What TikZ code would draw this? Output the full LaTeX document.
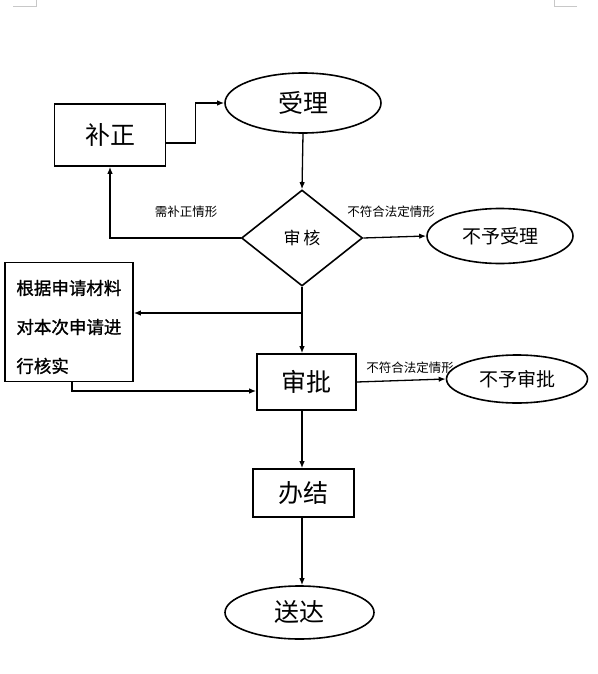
\documentclass[tikz,border=0pt]{standalone}
\usepackage{fontspec}
\setmainfont{Noto Sans CJK SC}
\newfontfamily\heshifont[FakeBold=1.2]{Noto Sans CJK SC}
\usepackage{xcolor}
\usetikzlibrary{shapes.geometric, arrows.meta, positioning, calc}
\definecolor{FL_LINE}{HTML}{000000}
\definecolor{FL_MARK}{HTML}{C8C8C8}
\tikzset{
  boxnode/.style={
    rectangle, draw=FL_LINE, line width=1.6pt,
    text centered, align=center, inner sep=0pt},
  ovalnode/.style={
    ellipse, draw=FL_LINE, line width=1.6pt,
    text centered, align=center, inner sep=0pt},
  checknode/.style={
    diamond, draw=FL_LINE, line width=1.6pt,
    text centered, align=center, inner sep=0pt,
    minimum width=121pt, minimum height=96pt},
  arr/.style={-{Latex[length=7pt,width=5.5pt]}, line width=1.3pt, color=FL_LINE},
  cond/.style={font=\fontsize{12.5}{14}\selectfont, inner sep=0pt},
}

\begin{document}
\begin{tikzpicture}[x=1pt, y=-1pt]
  \useasboundingbox (0,0) rectangle (597,674);

  % page corner marks
  \draw[FL_MARK, line width=1pt] (13,7) -- (36,7) -- (36,0);
  \draw[FL_MARK, line width=1pt] (577,7) -- (554,7) -- (554,0);

  \coordinate (spine) at (302,0);

  \node[ovalnode, minimum width=156pt, minimum height=60pt,
    font=\fontsize{25}{28}\selectfont] (shouli) at (303,103) {受理};
  \node[boxnode, minimum width=111pt, minimum height=62pt,
    font=\fontsize{25}{28}\selectfont] (buzheng) at (110,135) {补正};
  \node[checknode, font=\fontsize{17}{20}\selectfont] (shenhe) at (302,238)
    {审\hspace{3pt}核};
  \node[ovalnode, minimum width=146pt, minimum height=55pt,
    font=\fontsize{19}{22}\selectfont] (buyushouli) at (500,236) {不予受理};

  \node[boxnode, minimum width=128pt, minimum height=119pt] (heshi) at (69,322) {};
  \node[align=left, anchor=west, inner sep=0pt,
    font=\heshifont\fontsize{17.5}{39}\selectfont] (heshitext)
    at ([xshift=12pt, yshift=-5pt]heshi.west)
    {根据申请材料\\对本次申请进\\行核实};

  \node[boxnode, minimum width=99pt, minimum height=56pt,
    font=\fontsize{25}{28}\selectfont] (shenpi) at (306.5,382) {审批};
  \node[ovalnode, minimum width=141pt, minimum height=48pt,
    font=\fontsize{19}{22}\selectfont] (buyushenpi) at (517,379) {不予审批};

  \node[boxnode, minimum width=101pt, minimum height=48pt,
    font=\fontsize{25}{28}\selectfont] (banjie) at (303.5,493) {办结};
  \node[ovalnode, minimum width=149pt, minimum height=53pt,
    font=\fontsize{25}{28}\selectfont] (songda) at (299.5,612.5) {送达};

  % connectors
  \draw[arr] ([yshift=-8pt]buzheng.east) -- ++(29,0) |- (shouli.west);
  \draw[arr] (shouli.south) -- (shenhe.north);
  \draw[arr] (shenhe.west) -| (buzheng.south);
  \node[cond] (needfix) at (186,212) {需补正情形};
  \draw[arr] (shenhe.east) -- (buyushouli.west);
  \node[cond] (notlegal1) at (391,212) {不符合法定情形};

  \coordinate (fork) at (spine |- 0,313);
  \draw[arr] (shenhe.south) -- (spine |- shenpi.north);
  \draw[arr] (fork) -- (fork -| heshi.east);
  \draw[arr] ([xshift=3pt]heshi.south) |- ([yshift=-9pt]shenpi.west);

  \draw[arr] (shenpi.east) -- (buyushenpi.west);
  \node[cond] (notlegal2) at (410,368) {不符合法定情形};

  \draw[arr] (spine |- shenpi.south) -- (spine |- banjie.north);
  \draw[arr] (spine |- banjie.south) -- (spine |- songda.north);
\end{tikzpicture}
\end{document}
